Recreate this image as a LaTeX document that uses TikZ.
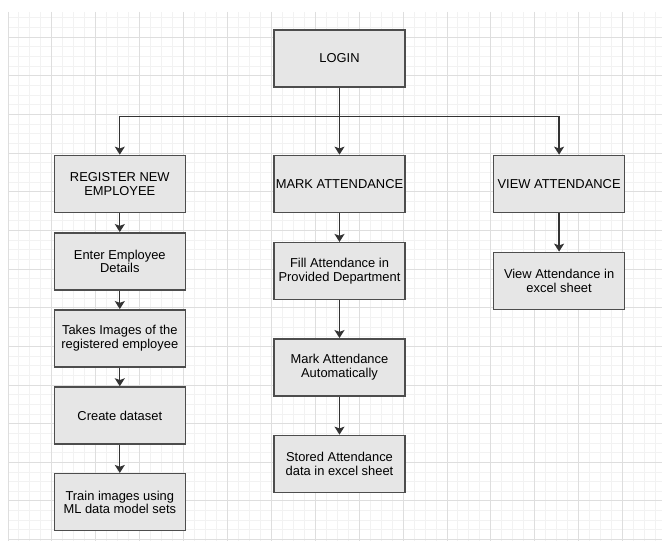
\documentclass[tikz,border=0pt]{standalone}
\usepackage{fontspec}
\setmainfont{Liberation Sans}
\usetikzlibrary{arrows.meta}
\definecolor{boxfill}{HTML}{E6E6E6}
\definecolor{boxline}{HTML}{4D4D4D}
\definecolor{flowline}{HTML}{333333}
\definecolor{gridmajor}{HTML}{DEDEDE}
\definecolor{gridminor}{HTML}{F2F2F2}

\begin{document}
\begin{tikzpicture}[x=1pt,y=-1pt,
    box/.style={
      draw=boxline,fill=boxfill,line width=1.5pt,
      minimum width=131pt,minimum height=57pt,inner sep=0pt,
      align=center,font=\fontsize{12.9}{13.6}\selectfont
    },
    flow/.style={
      draw=flowline,line width=1.3pt,-{Stealth[length=8pt,width=10pt,inset=1.8pt]}
    },
    minorline/.style={draw=gridminor,line width=1pt},
    majorline/.style={draw=gridmajor,line width=1pt}
  ]
  \useasboundingbox (0,0) rectangle (662,543);
  % background grid
  \foreach \i in {0,...,59} \draw[minorline] ({8+\i*10.975},12) -- ({8+\i*10.975},541);
  \foreach \j in {0,...,54} \draw[minorline] (8,{17.98+\j*9.66}) -- (662,{17.98+\j*9.66});
  \foreach \i in {0,...,14} \draw[majorline] ({8+\i*43.9},12) -- ({8+\i*43.9},541);
  \foreach \j in {0,...,13} \draw[majorline] (8,{37.3+\j*38.64}) -- (662,{37.3+\j*38.64});

  \node[box] (login) at (339.5,58.5) {LOGIN};
  \node[box] (reg) at (119.8,183.9) {REGISTER NEW\\EMPLOYEE};
  \node[box] (mark) at (339.5,183.9) {MARK ATTENDANCE};
  \node[box] (view) at (559.1,183.9) {VIEW ATTENDANCE};
  % left column
  \node[box] (details) at (119.8,261.3) {Enter Employee\\Details};
  \node[box] (images) at (119.8,338.3) {Takes Images of the\\registered employee};
  \node[box] (dataset) at (119.8,415.5) {Create dataset};
  \node[box] (train) at (119.8,502.2) {Train images using\\ML data model sets};
  % middle column
  \node[box] (fill) at (339.5,271.2) {Fill Attendance in\\Provided Department};
  \node[box] (auto) at (339.5,367.3) {Mark Attendance\\Automatically};
  \node[box] (stored) at (339.5,463.9) {Stored Attendance\\data in excel sheet};
  % right column
  \node[box] (excel) at (559.1,280.9) {View Attendance in\\excel sheet};

  \coordinate (split) at (339.5,116.7);
  \draw[flow] (login) -- (mark);
  \draw[flow] (split) -| (reg);
  \draw[flow] (split) -| (view);
  \draw[flow] (reg) -- (details);
  \draw[flow] (details) -- (images);
  \draw[flow] (images) -- (dataset);
  \draw[flow] (dataset) -- (train);
  \draw[flow] (mark) -- (fill);
  \draw[flow] (fill) -- (auto);
  \draw[flow] (auto) -- (stored);
  \draw[flow] (view) -- (excel);
\end{tikzpicture}
\end{document}
